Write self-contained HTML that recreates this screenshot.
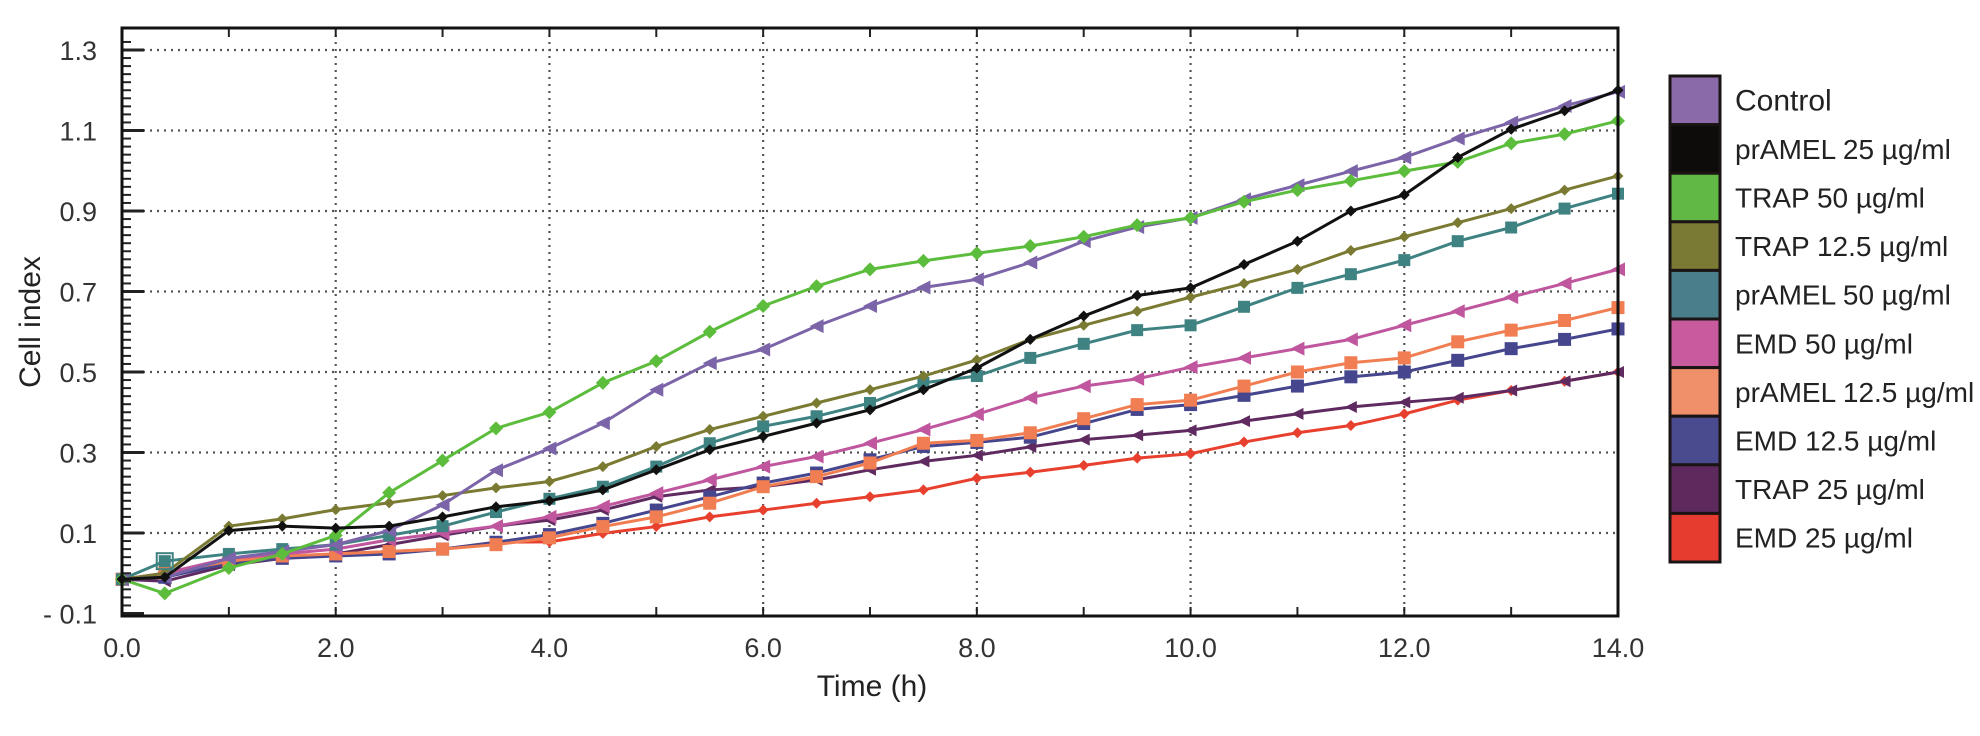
<!DOCTYPE html>
<html><head><meta charset="utf-8"><style>
body{margin:0;background:#fff;}
svg text{font-family:"Liberation Sans",sans-serif;}
</style></head><body>
<svg id="chart" width="1980" height="731" viewBox="0 0 1980 731" xmlns="http://www.w3.org/2000/svg">
<rect width="1980" height="731" fill="#fff"/>
<g id="grid"></g>
<g id="series"></g>
<g id="axes"></g>
<g id="legend"></g>
<text x="872" y="696" font-size="30" text-anchor="middle" fill="#222">Time (h)</text>
<text transform="translate(40,322) rotate(-90)" font-size="30" text-anchor="middle" fill="#222">Cell index</text>
</svg>
<script>
const times = [0,0.4,1,1.5,2,2.5,3,3.5,4,4.5,5,5.5,6,6.5,7,7.5,8,8.5,9,9.5,10,10.5,11,11.5,12,12.5,13,13.5,14];
const seriesNames = ["Control","prAMEL 25 µg/ml","TRAP 50 µg/ml","TRAP 12.5 µg/ml","prAMEL 50 µg/ml","EMD 50 µg/ml","prAMEL 12.5 µg/ml","EMD 12.5 µg/ml","TRAP 25 µg/ml","EMD 25 µg/ml"];
const control   = [-0.015,-0.01,0.037,0.054,0.071,0.106,0.17,0.256,0.31,0.373,0.456,0.522,0.556,0.614,0.664,0.71,0.73,0.772,0.825,0.86,0.883,0.929,0.964,0.999,1.033,1.08,1.12,1.161,1.196];
const pramel25  = [-0.015,-0.01,0.106,0.117,0.112,0.117,0.14,0.165,0.18,0.207,0.257,0.307,0.34,0.373,0.406,0.456,0.51,0.581,0.639,0.69,0.709,0.767,0.825,0.9,0.94,1.033,1.103,1.149,1.2];
const trap50    = [-0.015,-0.05,0.013,0.048,0.094,0.2,0.28,0.36,0.4,0.473,0.527,0.6,0.664,0.713,0.755,0.776,0.795,0.813,0.836,0.865,0.883,0.923,0.952,0.975,0.999,1.022,1.068,1.091,1.124];
const trap125   = [-0.015,0.0,0.117,0.135,0.158,0.175,0.193,0.212,0.228,0.265,0.315,0.357,0.39,0.423,0.456,0.49,0.53,0.581,0.616,0.651,0.686,0.72,0.755,0.802,0.836,0.871,0.906,0.952,0.987];
const pramel50  = [-0.015,0.03,0.048,0.06,0.071,0.094,0.117,0.152,0.185,0.215,0.265,0.323,0.365,0.39,0.423,0.473,0.49,0.535,0.57,0.604,0.616,0.662,0.709,0.743,0.778,0.825,0.859,0.906,0.943];
const emd50     = [-0.015,0.0,0.037,0.048,0.06,0.083,0.1,0.117,0.14,0.166,0.199,0.232,0.265,0.29,0.323,0.357,0.395,0.436,0.465,0.483,0.512,0.535,0.558,0.581,0.616,0.651,0.686,0.72,0.755];
const pramel125 = [-0.015,0.0,0.03,0.043,0.048,0.054,0.06,0.071,0.088,0.116,0.14,0.174,0.215,0.24,0.274,0.323,0.33,0.349,0.384,0.419,0.43,0.465,0.5,0.523,0.535,0.575,0.604,0.628,0.66];
const emd125    = [-0.015,-0.01,0.025,0.037,0.043,0.048,0.06,0.077,0.096,0.124,0.157,0.19,0.224,0.249,0.282,0.315,0.325,0.338,0.372,0.407,0.419,0.442,0.465,0.488,0.5,0.529,0.558,0.581,0.607];
const trap25    = [-0.015,-0.02,0.02,0.037,0.048,0.071,0.094,0.117,0.132,0.157,0.19,0.207,0.215,0.232,0.257,0.278,0.293,0.314,0.332,0.343,0.355,0.378,0.396,0.413,0.425,0.436,0.454,0.477,0.5];
const emd25     = [-0.015,0.0,0.025,0.037,0.048,0.054,0.06,0.077,0.078,0.099,0.116,0.14,0.157,0.174,0.19,0.207,0.236,0.251,0.268,0.286,0.297,0.326,0.349,0.367,0.396,0.43,0.454,0.477,0.5];
const yTickValues = [-0.1,0.1,0.3,0.5,0.7,0.9,1.1,1.3];
const yTickLabels = ["- 0.1","0.1","0.3","0.5","0.7","0.9","1.1","1.3"];
const xTickValues = [0,2,4,6,8,10,12,14];
const xTickLabels = ["0.0","2.0","4.0","6.0","8.0","10.0","12.0","14.0"];

const NS="http://www.w3.org/2000/svg";
const L=122,R=1618,T=28,B=616;
const xS=t=>L+t*(R-L)/14;
const yS=v=>533-(v-0.1)*402.5;
function mk(tag,attrs,parent){const e=document.createElementNS(NS,tag);for(const k in attrs)e.setAttribute(k,attrs[k]);parent.appendChild(e);return e;}
const grid=document.getElementById('grid'),axes=document.getElementById('axes'),sg=document.getElementById('series'),lg=document.getElementById('legend');

xTickValues.forEach((t,i)=>{
  if(t>0&&t<14){const g=mk('line',{x1:xS(t),x2:xS(t),y1:T,y2:B,stroke:'#555','stroke-width':2.2,'stroke-dasharray':'2 5'},grid);
  
  }
  const tx=mk('text',{x:xS(t),y:657,'font-size':27,'text-anchor':'middle',fill:'#333'},axes);tx.textContent=xTickLabels[i];
  
  
});
yTickValues.forEach((v,i)=>{
  if(v>-0.1){const g=mk('line',{x1:L,x2:R,y1:yS(v),y2:yS(v),stroke:'#555','stroke-width':2.2,'stroke-dasharray':'2 5'},grid);
  
  }
  const tx=mk('text',{x:97,y:yS(v)+10,'font-size':27,'text-anchor':'end',fill:'#333'},axes);tx.textContent=yTickLabels[i];
  
  
});
for(let k=0;k<=71;k++){const v=-0.1+k*0.02;const y=yS(v);if(y<T)break;
  const major=(k%10===0);mk('line',{x1:L,x2:L+(major?22:9),y1:y,y2:y,stroke:'#222','stroke-width':major?3:2},axes);}
for(let h=1;h<14;h++){mk('line',{x1:xS(h),x2:xS(h),y1:B,y2:B-9,stroke:'#222','stroke-width':2},axes);mk('line',{x1:xS(h),x2:xS(h),y1:T,y2:T+9,stroke:'#222','stroke-width':2},axes);}
const frame=mk('rect',{x:L,y:T,width:R-L,height:B-T,fill:'none',stroke:'#111','stroke-width':3},axes);



const allData=[control,pramel25,trap50,trap125,pramel50,emd50,pramel125,emd125,trap25,emd25];
const colors=["#7c64a8","#111111","#5cbc3c","#7a7a32","#3f8282","#c0569e","#f07e52","#46468e","#5e2a60","#e8402e"];
const legendColors=["#8a6aa8","#0e0b0b","#62b844","#7a7a34","#4a7e8a","#c85a9e","#f0906a","#4a4a8e","#5e2a5e","#e63c30"];
const shapes=["tri","dia","dia","dia","sq","tri","sq","sq","tri","dia"];
const sizes=[7,5.5,7,5.5,6,7,6.5,6.5,6,5.5];
const drawOrder=[9,8,7,6,5,4,3,0,2,1];
drawOrder.forEach(si=>{
  const d=allData[si],c=colors[si];
  const g=mk('g',{},sg);
  
  
  const pts=times.map((t,i)=>xS(t)+','+yS(d[i])).join(' ');
  mk('polyline',{points:pts,fill:'none',stroke:c,'stroke-width':3},g);
  times.forEach((t,i)=>{const x=xS(t),y=yS(d[i]),s=sizes[si];let m;
    if(shapes[si]==='sq')m=mk('rect',{x:x-s,y:y-s,width:2*s,height:2*s,fill:c},g);
    else if(shapes[si]==='tri')m=mk('polygon',{points:`${x-s},${y} ${x+s},${y-s} ${x+s},${y+s}`,fill:c},g);
    else m=mk('polygon',{points:`${x},${y-s} ${x+s},${y} ${x},${y+s} ${x-s},${y}`,fill:c},g);
    
    
  });
});
const os=mk('rect',{x:xS(0.4)-8,y:yS(0.03)-8,width:16,height:16,fill:'none',stroke:'#3f8282','stroke-width':2},sg);



const bh=48.6,by=76;
seriesNames.forEach((n,i)=>{
  const r=mk('rect',{x:1670,y:by+i*bh,width:50,height:bh,fill:legendColors[i],stroke:'#1a1414','stroke-width':3},lg);
  
  
  const tx=mk('text',{x:1735,y:by+i*bh+bh/2+10,'font-size':i===0?30:28,fill:'#222'},lg);tx.textContent=n;
  
  
});
</script>
</body></html>
